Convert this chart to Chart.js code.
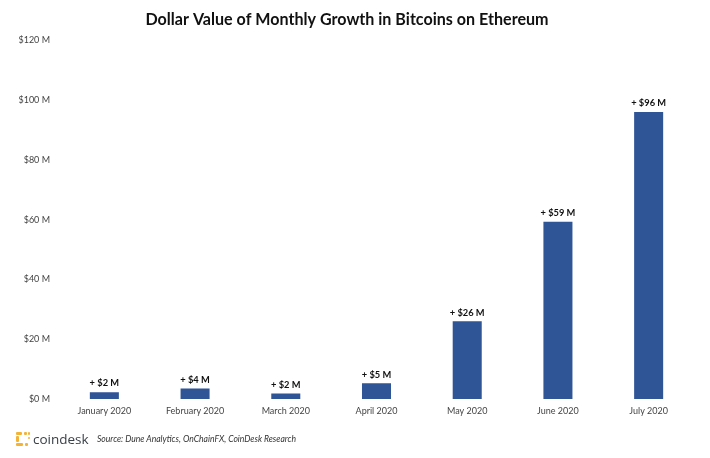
<!DOCTYPE html>
<html lang="en">
<head>
  <meta charset="UTF-8" />
  <title>Dollar Value of Monthly Growth in Bitcoins on Ethereum</title>
  <script src="https://cdn.jsdelivr.net/npm/chart.js@4.4.1/dist/chart.umd.min.js"></script>
  <style>
    html, body { margin: 0; padding: 0; background: #fff; }
    #wrap { position: relative; width: 710px; height: 458px; overflow: hidden; }
    canvas { position: absolute; left: 0; top: 0; }
    #logoMark { position: absolute; left: 16px; top: 432px; width: 14px; height: 14px; }
    #logoMark i { position: absolute; background: #f5b335; border-radius: 1px; }
    #logoText { position: absolute; left: 33px; top: 429px; font: 500 13.5px/20px "Open Sans", sans-serif; color: #3a4048; }
    #source { position: absolute; left: 97px; top: 433px; font: italic 8.6px/12px Lato, sans-serif; color: #333; }
  </style>
</head>
<body>
  <div id="wrap">
    <canvas id="barChart" width="710" height="458"></canvas>
    <div id="logoMark">
      <i style="left:0;top:0;width:6px;height:3px"></i>
      <i style="left:8px;top:0;width:3px;height:3px"></i>
      <i style="left:12px;top:0;width:2px;height:3px"></i>
      <i style="left:0;top:4px;width:3px;height:6px"></i>
      <i style="left:12px;top:5px;width:2px;height:2px"></i>
      <i style="left:0;top:11px;width:7px;height:3px"></i>
      <i style="left:9px;top:11px;width:3px;height:3px"></i>
    </div>
    <div id="logoText">coindesk</div>
    <div id="source">Source: Dune Analytics, OnChainFX, CoinDesk Research</div>
  </div>

<script>
const months = ['January 2020', 'February 2020', 'March 2020', 'April 2020', 'May 2020', 'June 2020', 'July 2020'];
const growth = [2.3, 3.5, 1.8, 5.3, 26, 59.3, 96];
const growthLabels = ['+ $2 M', '+ $4 M', '+ $2 M', '+ $5 M', '+ $26 M', '+ $59 M', '+ $96 M'];

// labels above bars
const barLabelPlugin = {
  id: 'barLabels',
  afterDatasetsDraw(chart) {
    const ctx = chart.ctx;
    const bars = chart.getDatasetMeta(0).data;
    ctx.save();
    ctx.font = 'bold 9.3px Lato, sans-serif';
    ctx.fillStyle = '#111';
    ctx.textAlign = 'center';
    ctx.textBaseline = 'bottom';
    bars.forEach((bar, i) => ctx.fillText(growthLabels[i], bar.x, bar.y - 4));
    ctx.restore();
  }
};

new Chart(document.getElementById('barChart'), {
  type: 'bar',
  plugins: [barLabelPlugin],
  data: {
    labels: months,
    datasets: [{
      data: growth,
      backgroundColor: '#2f5597',
      categoryPercentage: 1,
      barPercentage: 0.32
    }]
  },
  options: {
    responsive: false,
    animation: false,
    layout: { padding: { left: 0, right: 16, top: 0, bottom: 39 } },
    plugins: {
      legend: { display: false },
      tooltip: { enabled: false },
      title: {
        display: true,
        text: 'Dollar Value of Monthly Growth in Bitcoins on Ethereum',
        color: '#111',
        font: { family: 'Lato, sans-serif', size: 16.1, weight: 'bold' },
        padding: { top: 10, bottom: 11 }
      }
    },
    scales: {
      x: {
        grid: { display: false, tickLength: 0 },
        border: { display: false },
        ticks: { color: '#444', font: { family: 'Lato, sans-serif', size: 9 }, padding: 7, maxRotation: 0 },
        afterFit(scale) { scale.height = 20; }
      },
      y: {
        min: 0,
        max: 120,
        grid: { display: false, tickLength: 0 },
        border: { display: false },
        ticks: {
          stepSize: 20,
          color: '#444',
          font: { family: 'Lato, sans-serif', size: 9 },
          padding: 9,
          callback: v => '$' + v + ' M'
        },
        afterFit(scale) { scale.width = 59; }
      }
    }
  }
});
</script>
</body>
</html>
